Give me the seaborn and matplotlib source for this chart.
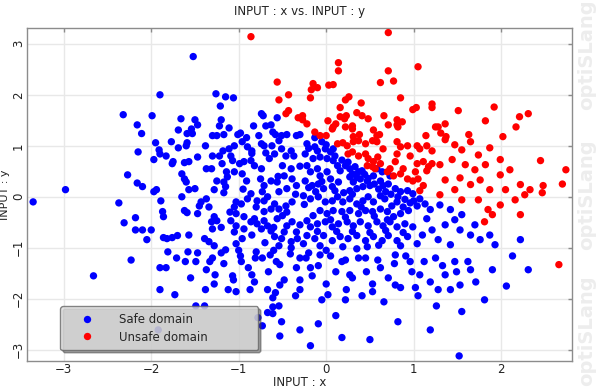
import numpy as np
import pandas as pd
import matplotlib
matplotlib.use("Agg")
import matplotlib.pyplot as plt
import seaborn as sns

# safe domain samples (blue)
safe_x = [
    -1.90, -2.32, -1.99, -2.16, -2.11,
    -1.52, -1.26, -1.15, -1.06, -1.21, -1.66, -1.50, -1.47, -1.20, -1.22, -1.11, -1.69, -1.54, -1.59, -1.53,
    -0.74, -0.72, -0.83, -0.69, -0.63, -0.56, -0.61, -0.58, -1.30, -1.25, -1.17, -1.01, -0.98, -0.91, -0.77,
    -0.51, -0.45, -0.34, -0.30, -0.13,
    -1.95, -1.91, -1.90, -2.15, -1.97, -2.27, -2.16, -2.10, -1.97, -1.94, -2.98, -3.35, -2.37, -1.89, -1.87,
    -1.86, -2.18, -2.31, -2.18, -2.10, -2.00, -2.05, -1.86,
    -2.66, -2.23, -1.73, -1.49, -1.39, -1.92,
    -1.12, -0.67, -0.58, -0.61, -0.35, -0.54, -0.61, -0.67, -0.61, -0.51, -0.78,
    1.52,
    -1.77, -1.69, -1.59, -1.60, -1.38, -1.47, -1.57, -1.62, -1.75, -1.76, -1.83, -1.30, -1.22, -1.18, -1.11,
    -1.05, -0.96, -0.90, -0.85, -0.74, -0.71, -0.62, -0.54, -0.69, -0.59, -0.51, -0.46, -0.37, -1.09, -1.07,
    -0.99, -0.94, -0.86, -0.82, -1.19, -1.37, -1.31, -1.14, -1.13, -1.25, -1.17, -1.05, -0.96, -0.91, -0.74,
    -1.65, -1.62, -1.60, -1.57, -1.50, -1.28, -1.17, -1.65, -1.43, -1.37, -1.45, -1.47, -1.62, -1.59, -1.34,
    -1.03, -1.05, -1.03, -0.97, -0.90, -0.86, -0.79, -0.73, -0.71, -0.67, -0.59, -0.63, -0.54, -0.46, -0.39,
    -0.71, -0.63, -0.56, -0.48, -0.40, -0.50, -0.39, -0.34, -0.45, -0.54,
    -1.28, -1.25, -1.31, -1.30, -1.39, -1.34, -1.57, -1.70, -1.76, -1.82, -1.09, -1.03, -1.05, -0.94, -0.86,
    -0.82, -0.79, -0.94, -0.96, -1.03, -0.71, -0.71, -0.67, -0.74, -0.63, -0.56, -0.50, -0.45, -0.39, -0.59,
    -0.51, -0.48, -0.34, -0.40, -0.33, -0.54, -1.28,
    -0.22, -0.13, -0.05, -0.01, 0.05, 0.08, -0.24, -0.15, -0.07, 0.01, 0.08, 0.13, 0.16, 0.22, 0.27,
    0.33, 0.37, 0.41, -0.22, -0.18, -0.10, -0.07, 0.01, 0.05, -0.24, -0.16, -0.09, -0.03, 0.07, 0.14,
    0.27, 0.31, 0.39, 0.47, 0.50, 0.42, 0.35, 0.27, 0.54, 0.62, 0.65, 0.71, 0.79, 0.85, 0.93,
    0.99, 1.07, 1.13, 1.04, 1.15, 0.73, 0.58, 0.64,
    -0.26, -0.18, -0.09, -0.01, 0.07, 0.13, 0.19, 0.27, 0.35, 0.42, 0.48, 0.54, 0.62, 0.67, 0.75,
    0.81, 0.88, 0.94, 0.85, 0.77, 0.70, 0.62, 0.53, 0.45, 0.37, 0.27, 0.18, 0.08, 0.01, -0.07,
    -0.15, -0.22, -0.18, -0.10, -0.01, 0.07, 0.14, 0.24, 0.31, 0.39, 0.48, 0.58, 0.65, 0.73, 0.81,
    0.90, 0.99, -0.22, -0.13, -0.03, 0.07, 0.16, 0.25, 0.35, 0.45, 0.54, 0.64, 0.71, 0.81, 0.93,
    1.04, 0.85, 0.47, 0.19, -0.07, -0.26,
    1.30, 1.42, 1.47, 1.36, 1.53, 1.65, 1.70, 1.55, 1.76, 1.87, 1.93, 1.28, 1.19, 1.21, 1.42,
    -1.83, -1.71, -1.58, -1.49, -1.37, -1.30, -1.17, -1.07, -0.98, -0.89, -0.82, -0.73, -0.66, -0.57, -0.48,
    -0.41, -0.34, -0.30, -0.23, -0.16, -0.09, -0.05, 0.00, 0.05, 0.11, 0.18, 0.23, 0.30, 0.37, 0.41,
    0.46, 0.53, 0.59, 0.66, 0.71, 0.78, 0.85, 0.91, 0.98, 1.05, 1.12, 1.19, 1.26, 1.33, 1.42,
    1.49, 1.55, 1.62, 1.71, 1.81, 1.90, 2.06, 2.13, -0.09, 0.11, 0.18, -0.30, -0.53, -0.73, 0.82,
    1.19, 0.50, -0.18, 2.22, 2.31, -1.03, -1.28, -1.55, -1.90,
    -0.20, -0.10, 0.00, 0.10, 0.18, 0.25, 0.30, 0.35, 0.44, 0.48, 0.55, 0.60, 0.68, 0.74, 0.82,
    0.90, 0.96, 1.00, 0.30, 0.20, 0.10, -0.05, -0.12, -0.20, 0.40, 0.55, 0.70, 0.22, 0.05, -0.10,
    0.12, 0.30, 0.50, 0.68, 0.88, 1.10, 0.60, 0.35, 0.00, -0.20, -0.40, -0.60, -0.80, -1.00, -1.20,
    -1.47, -1.33, -1.15, -0.97, -0.85, -0.81, -0.64, -0.53, -0.30, -0.18, -0.07, 0.22, 0.27, 0.45, 0.62,
    0.79, 0.96, 1.07, 1.25, 1.36, 1.47, 1.53, 1.65, 1.28, 1.02, 0.79, 0.53, 0.22, 0.02, -0.30,
    -0.53, -0.87, -1.06, -1.27, -1.38, -1.61, -1.81, -1.90,
    -1.20, -0.85, -0.70, -1.10, -0.80, -0.60, -0.45, -0.30, -0.35, -0.25, -0.55, -0.75, -0.95, -1.15, -0.65,
    -0.30, -0.40, -0.85,
]
safe_y = [
    2.00, 1.61, 1.59, 1.41, 1.24,
    2.75, 2.02, 1.96, 1.94, 1.78, 1.53, 1.51, 1.41, 1.51, 1.39, 1.35, 1.31, 1.33, 1.24, 1.24,
    1.63, 1.59, 1.39, 1.39, 1.41, 1.55, 1.27, 1.22, 1.20, 1.20, 1.22, 1.22, 1.25, 1.16, 1.20,
    1.20, 1.22, 1.20, 1.22, 1.16,
    1.06, 0.92, 0.84, 0.88, 0.73, 0.43, 0.27, 0.20, 0.10, 0.14, 0.14, -0.10, -0.12, -0.08, -0.29,
    -0.39, -0.41, -0.51, -0.65, -0.65, -0.65, -0.84, -0.80,
    -1.55, -1.24, -1.92, -2.14, -2.14, -2.61,
    -1.82, -1.82, -1.88, -1.98, -1.94, -2.14, -2.16, -2.27, -2.29, -2.45, -2.37,
    -3.12,
    1.08, 0.96, 1.06, 1.00, 1.00, 0.78, 0.69, 0.67, 0.69, 0.65, 0.80, 0.80, 0.80, 0.90, 0.94,
    1.00, 1.08, 0.98, 0.90, 1.04, 1.00, 1.00, 1.10, 0.86, 0.84, 0.94, 0.80, 0.80, 0.80, 0.71,
    0.65, 0.69, 0.71, 0.61, 0.65, 0.55, 0.55, 0.49, 0.39, 0.31, 0.29, 0.49, 0.45, 0.31, 0.55,
    0.45, 0.35, 0.29, 0.14, 0.16, 0.14, 0.08, 0.00, -0.10, -0.04, -0.18, -0.33, -0.27, -0.31, -0.20,
    -0.10, -0.20, -0.33, -0.14, -0.04, 0.06, -0.08, 0.10, -0.08, 0.00, -0.14, -0.24, -0.24, -0.18, -0.10,
    0.22, 0.31, 0.29, 0.41, 0.55, 0.61, 0.35, 0.22, 0.16, 0.10,
    -0.39, -0.47, -0.49, -0.63, -0.82, -0.88, -0.75, -0.76, -0.80, -0.82, -0.47, -0.57, -0.69, -0.39, -0.49,
    -0.43, -0.53, -0.63, -0.82, -0.92, -0.29, -0.47, -0.57, -0.63, -0.67, -0.43, -0.37, -0.57, -0.49, -0.78,
    -0.82, -0.69, -0.69, -0.88, -0.82, -0.96, -0.96,
    1.04, 0.98, 1.08, 0.94, 0.88, 0.94, 0.84, 0.75, 0.78, 0.75, 0.71, 0.61, 0.51, 0.61, 0.55,
    0.59, 0.49, 0.51, 0.61, 0.49, 0.55, 0.41, 0.49, 0.35, 0.31, 0.22, 0.25, 0.16, 0.20, 0.29,
    0.39, 0.29, 0.35, 0.31, 0.22, 0.20, 0.16, 0.12, 0.41, 0.31, 0.22, 0.25, 0.16, 0.10, 0.12,
    0.06, -0.04, -0.14, -0.18, -0.43, 0.41, 0.55, 0.49,
    0.02, -0.04, 0.00, -0.10, -0.08, 0.00, -0.10, -0.04, -0.14, -0.08, 0.00, -0.10, 0.02, -0.04, -0.18,
    -0.10, -0.20, -0.27, -0.33, -0.39, -0.29, -0.24, -0.29, -0.27, -0.33, -0.27, -0.29, -0.27, -0.33, -0.27,
    -0.37, -0.47, -0.59, -0.53, -0.49, -0.59, -0.53, -0.49, -0.57, -0.49, -0.57, -0.49, -0.57, -0.49, -0.59,
    -0.53, -0.59, -0.76, -0.82, -0.76, -0.86, -0.78, -0.82, -0.76, -0.86, -0.78, -0.86, -0.76, -0.86, -0.78,
    -0.92, -0.96, -0.98, -0.98, -0.96, -0.92,
    -0.16, -0.25, -0.45, -0.55, -0.65, -0.75, -0.55, -0.35, -0.84, -0.75, -0.94, -0.84, -0.25, -0.65, -0.94,
    -1.39, -1.20, -1.08, -1.27, -1.43, -1.20, -1.31, -1.55, -1.16, -1.39, -1.67, -1.20, -1.47, -1.27, -1.63,
    -1.12, -1.39, -1.82, -1.20, -1.55, -1.35, -2.02, -1.71, -1.16, -1.47, -1.27, -1.82, -1.59, -1.20, -1.94,
    -1.47, -1.71, -1.24, -2.06, -1.59, -1.31, -1.78, -1.16, -1.47, -1.94, -1.27, -1.67, -2.14, -1.35, -1.82,
    -1.47, -2.25, -1.27, -1.67, -2.02, -1.43, -1.75, -1.16, -2.49, -2.33, -2.76, -2.61, -2.73, -2.53, -2.45,
    -2.61, -2.80, -2.92, -0.84, -1.43, -1.86, -1.71, -1.59, -1.82,
    0.95, 0.90, 1.02, 0.80, 0.72, 0.68, 0.45, 0.38, 0.44, 0.36, 0.25, 0.15, 0.10, 0.05, 0.00,
    -0.05, -0.12, -0.08, 0.05, 0.08, 0.12, 0.30, 0.10, 0.18, -0.20, -0.38, -0.45, -0.40, -0.45, -0.68,
    -0.68, -0.68, -0.70, -0.66, -0.70, -0.75, -0.95, -1.02, -1.05, -1.10, -1.00, -1.05, -1.08, -1.05, -1.10,
    -1.10, -1.27, -1.04, -1.27, -1.53, -1.20, -1.14, -1.33, -1.20, -1.39, -1.14, -1.24, -1.53, -1.20, -1.39,
    -1.14, -1.27, -1.53, -1.20, -1.53, -1.27, -1.73, -1.43, -1.82, -1.78, -1.73, -1.86, -2.02, -1.92, -1.63,
    -1.73, -1.82, -1.63, -1.53, -1.82, -1.27, -1.08, -1.39,
    -0.60, -0.75, -0.90, -0.30, -0.20, -0.60, -0.30, -0.55, 0.05, -0.15, 0.40, 0.35, 0.15, 0.20, 0.75,
    0.60, 0.90, 0.85,
]

# unsafe domain samples (red)
unsafe_x = [
    -0.86, 0.71, 0.14, 0.14, 1.05, 0.71, 0.62, 0.77, -0.15, -0.17, -0.10, 0.03, 0.08, -0.18, 0.22,
    0.26, 0.40, 0.85, 0.16, 0.99, 1.03, 1.21, 1.21, 0.35, 0.41, 0.48, 0.66, 0.16, 0.23, 0.21,
    0.02, 0.11, 0.08, 0.07, 0.22, 0.30, 0.30, 0.81, 0.87, 0.81, 0.82, 0.71, 0.54, 0.61, 0.58,
    0.38, 0.31, 0.00, -0.07, -0.13, -0.27, -0.27, -0.22, 1.14, 1.25,
    -0.56, -0.43, -0.54, -0.43, -0.46, -0.32,
    1.51, 1.92, 2.31, 2.21, 1.82, 2.17, 1.28, 1.36, 1.31, 1.37, 1.63, 2.02,
    2.45, 2.74, 2.70, 2.48, 2.47, 2.66,
    0.13, 0.19, 0.24, 0.31, 0.37, 0.45, 0.53, 0.58, 0.25, 0.30, 0.37, 0.45, 0.48, 0.54, 0.59,
    0.62, 0.47, 0.53, 0.56, 0.81, 0.85, 0.93, 1.04, 1.07, 1.15, 1.21, 0.81, 0.96, 1.04, 1.11,
    1.17, 1.21, 0.70, 0.77, 0.85, 0.93, 0.99, 1.05, 1.02, 1.15, 1.11, 1.07, 0.88, 0.79, 0.65, 0.73,
    1.36, 1.47, 1.55, 1.65, 1.74, 1.87, 1.99, 1.44, 1.30, 1.59, 1.70, 1.82, 1.53, 1.65, 1.76,
    1.87, 1.99, 2.10, 1.36, 1.47, 1.74, 1.85, 1.81, 1.90, 1.99, 2.22, 2.27, 2.16, 2.33, 2.22,
    2.05, 1.30, 1.55,
]
unsafe_y = [
    3.14, 3.22, 2.63, 2.47, 2.55, 2.47, 2.24, 2.27, 2.22, 2.10, 2.14, 2.19, 2.20, 1.94, 1.90,
    1.96, 1.84, 1.94, 1.75, 1.71, 1.75, 1.75, 1.82, 1.65, 1.59, 1.53, 1.59, 1.57, 1.59, 1.53,
    1.49, 1.43, 1.37, 1.33, 1.37, 1.39, 1.33, 1.51, 1.47, 1.41, 1.37, 1.41, 1.31, 1.22, 1.20,
    1.22, 1.18, 1.20, 1.20, 1.27, 1.59, 1.51, 1.43, 1.20, 1.37,
    2.25, 2.00, 1.90, 1.69, 1.63, 1.55,
    1.69, 1.76, 1.63, 1.57, 1.49, 1.37, 1.37, 1.43, 1.25, 1.18, 1.22, 1.18,
    0.71, 0.53, 0.25, 0.22, 0.08, -1.33,
    1.04, 1.06, 1.00, 1.08, 1.10, 1.04, 1.10, 1.08, 0.84, 0.88, 0.80, 0.84, 0.75, 0.69, 0.78,
    0.65, 0.61, 0.59, 0.55, 1.08, 0.98, 1.00, 1.00, 0.94, 1.00, 0.90, 0.84, 0.80, 0.65, 0.69,
    0.59, 0.65, 0.49, 0.41, 0.45, 0.35, 0.31, 0.35, 0.49, 0.51, 0.22, 0.12, 0.55, 0.69, 0.94, 0.55,
    1.12, 1.02, 0.92, 1.08, 0.82, 0.96, 0.73, 0.73, 0.63, 0.63, 0.53, 0.63, 0.37, 0.24, 0.33,
    0.14, 0.43, 0.53, 0.33, 0.14, -0.06, -0.25, -0.49, -0.35, -0.16, 0.24, 0.04, -0.06, 0.14, -0.35,
    0.14, 0.04, -0.06,
]

df = pd.concat([
    pd.DataFrame({"x": safe_x, "y": safe_y, "domain": "Safe domain"}),
    pd.DataFrame({"x": unsafe_x, "y": unsafe_y, "domain": "Unsafe domain"}),
], ignore_index=True)

sns.set_style("whitegrid")
plt.rcParams["font.family"] = ["DejaVu Sans"]

fig = plt.figure(figsize=(6.0, 3.89), dpi=100)
ax = fig.add_axes([27 / 600, 1 - 361 / 389, 545 / 600, 333 / 389])

sns.scatterplot(data=df, x="x", y="y", hue="domain",
                palette={"Safe domain": "#0000ff", "Unsafe domain": "#ff0000"},
                s=28, edgecolor="none", linewidth=0, ax=ax, zorder=3)

ax.set_xlim(-3.42, 2.81)
ax.set_ylim(-3.22, 3.31)
ax.set_xticks([-3, -2, -1, 0, 1, 2])
ax.set_yticks([-3, -2, -1, 0, 1, 2, 3])
ax.grid(True, color="#e8e8e8", linewidth=1.0)
for sp in ax.spines.values():
    sp.set_color("#8c8c8c")
    sp.set_linewidth(1.0)
ax.tick_params(axis="both", direction="in", length=3, width=1, color="#8c8c8c",
               labelsize=8.5, labelcolor="#222222", top=True, right=True, pad=1.5)
plt.setp(ax.get_yticklabels(), rotation=90, va="center")

ax.set_title("INPUT : x vs. INPUT : y", fontsize=8.5, color="#222222", pad=9)
ax.set_xlabel("INPUT : x", fontsize=8.5, color="#222222", labelpad=0)
ax.set_ylabel("INPUT : y", fontsize=8, color="#222222")
ax.yaxis.set_label_coords(-0.0305, 0.5)

leg = ax.legend(loc="lower left", bbox_to_anchor=(0.061, 0.033, 0.363, 0.14), mode="expand",
                frameon=True, fancybox=True, shadow=True, facecolor="#dcdcdc",
                edgecolor="#666666", framealpha=0.8, fontsize=8.5, handlelength=3.4,
                handletextpad=1.0, borderpad=0.55, labelspacing=0.4, borderaxespad=0)
leg.set_zorder(5)

# watermark along right edge
for yy in [0.86, 0.5, 0.15]:
    fig.text(0.977, yy, "optiSLang", rotation=90, fontsize=14, fontweight="bold",
             color="#ededed", ha="center", va="center")

fig.savefig("out.png", dpi=100)
